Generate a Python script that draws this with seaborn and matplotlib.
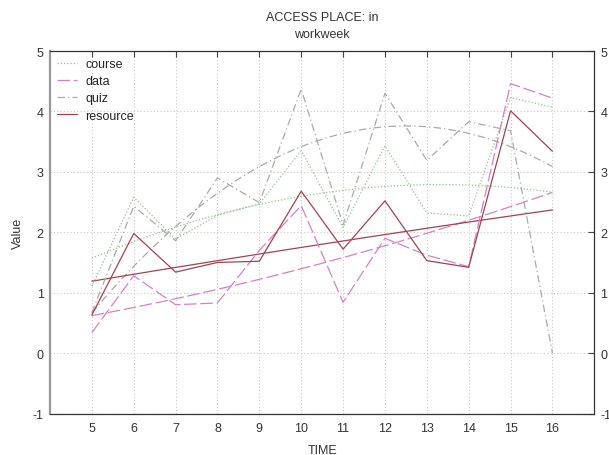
import numpy as np
import pandas as pd
import matplotlib
matplotlib.use("Agg")
import matplotlib.pyplot as plt
import seaborn as sns
from matplotlib.lines import Line2D

# ---- data ----
time = [5, 6, 7, 8, 9, 10, 11, 12, 13, 14, 15, 16]
course = [1.11, 2.58, 1.89, 2.28, 2.47, 3.35, 2.08, 3.43, 2.32, 2.27, 4.23, 4.07]
data_vals = [0.34, 1.28, 0.80, 0.83, 1.70, 2.44, 0.84, 1.90, 1.62, 1.43, 4.46, 4.22]
quiz = [0.67, 2.43, 1.86, 2.90, 2.49, 4.37, 2.12, 4.30, 3.19, 3.83, 3.68, 0.00]
resource = [0.63, 1.98, 1.34, 1.50, 1.52, 2.68, 1.72, 2.52, 1.53, 1.42, 4.01, 3.34]
series_names = ["course", "data", "quiz", "resource"]

# fitted trend curves (quadratic in (TIME - 5))
course_fit = [-0.0176, 0.293, 1.57]
data_fit = [0.00506, 0.1298, 0.62]
quiz_fit = [-0.055, 0.825, 0.666]
resource_fit = [-0.00075, 0.1155, 1.19]

yticks = [-1, 0, 1, 2, 3, 4, 5]

# ---- styles ----
colors = {"course": "#8cc68c", "data": "#d87fcb", "quiz": "#aaaaaa", "resource": "#a8404e"}
dashes = {"course": (1, 1.6), "data": (10, 3), "quiz": (6, 2.5, 1, 2.5), "resource": ""}

raw = {"course": course, "data": data_vals, "quiz": quiz, "resource": resource}
fits = {"course": course_fit, "data": data_fit, "quiz": quiz_fit, "resource": resource_fit}

df = pd.concat([pd.DataFrame({"TIME": time, "Value": raw[n], "series": n}) for n in series_names],
               ignore_index=True)
xs = np.linspace(min(time), max(time), 200)
df_fit = pd.concat([pd.DataFrame({"TIME": xs, "Value": np.polyval(fits[n], xs - min(time)), "series": n})
                    for n in series_names], ignore_index=True)

sns.set_style("white")
plt.rcParams['font.family'] = ['Liberation Sans', 'DejaVu Sans']

fig = plt.figure(figsize=(6.09, 4.56), dpi=100)
ax = fig.add_axes([50 / 609, 41.5 / 456, 544.3 / 609, 362.5 / 456])

sns.lineplot(data=df_fit, x="TIME", y="Value", hue="series", style="series",
             palette=colors, dashes=dashes, linewidth=0.9, legend=False, ax=ax)
sns.lineplot(data=df, x="TIME", y="Value", hue="series", style="series",
             palette=colors, dashes=dashes, linewidth=0.9, legend=False, ax=ax)

ax.set_xlim(4, 17)
ax.set_ylim(-1, 5)
ax.set_xticks(time)
ax.set_xticklabels([str(t) for t in time])
ax.set_yticks(yticks)
ax.set_yticklabels([str(v) for v in yticks])

ax.grid(True, linestyle=(0, (1, 2)), color="#c8c8c8", linewidth=0.8)
ax.tick_params(direction="in", top=True, right=True, labelright=True, length=4,
               width=0.8, color="#444444", labelsize=9, labelcolor="#333333")
ax.tick_params(axis="x", pad=6)
ax.tick_params(axis="y", pad=4.5)

for side in ["top", "right", "bottom"]:
    ax.spines[side].set_color("#333333")
    ax.spines[side].set_linewidth(0.9)
ax.spines["left"].set_color("#999999")
ax.spines["left"].set_linewidth(1.6)

ax.set_title("ACCESS PLACE: in\nworkweek", fontsize=9, color="#333333", pad=10, linespacing=1.55)
ax.set_xlabel("TIME", fontsize=9, color="#333333", labelpad=7)
ax.set_ylabel("Value", fontsize=9, color="#333333", labelpad=6)

handles = []
for n in series_names:
    h = Line2D([0], [0], color=colors[n], linewidth=0.9)
    if dashes[n]:
        h.set_dashes(dashes[n])
    handles.append(h)
ax.legend(handles, series_names, loc="upper left", frameon=False, fontsize=9,
          handlelength=1.6, handletextpad=0.65, labelspacing=0.42,
          borderaxespad=0.35, borderpad=0.2)

fig.savefig("out.png", dpi=100)
